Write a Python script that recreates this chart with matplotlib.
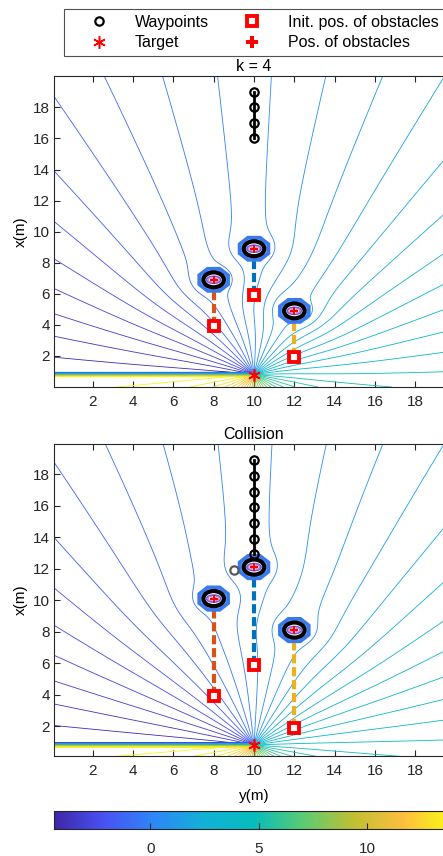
import numpy as np
import matplotlib
matplotlib.use('Agg')
import matplotlib.pyplot as plt
from matplotlib.colors import LinearSegmentedColormap, Normalize
from matplotlib.cm import ScalarMappable
from matplotlib.lines import Line2D
from matplotlib.patches import Ellipse, RegularPolygon

plt.rcParams['font.family'] = ['Liberation Sans', 'DejaVu Sans']
plt.rcParams['font.size'] = 11

## scenario data (y horizontal, x vertical)
target_y, target_x = 10.0, 0.8
obs_y = [8.0, 10.0, 12.0]
obs_init_x = [3.9, 5.9, 1.9]
obs_k4_x = [6.9, 8.9, 4.9]
obs_coll_x = [10.1, 12.1, 8.1]
wp_k4_y = [10, 10, 10, 10]
wp_k4_x = [19.0, 18.0, 17.0, 16.0]
wp_coll_y = [10, 10, 10, 10, 10, 10, 10]
wp_coll_x = [18.9, 17.9, 16.9, 15.9, 14.9, 13.9, 12.9]
coll_pt_y, coll_pt_x = [9.0], [11.9]

obs_radius = 0.8
sink_strength = 2.93
psi_offset = 4.78
c_lim = [-4.42, 13.98]
levels = 0.704 + 0.394 * np.arange(-12, 34)

obs_colors = ['#D95319', '#0072BD', '#EDB120']

# parula-like colormap
parula_pts = [(0.00, (0.2422, 0.1504, 0.6603)),
              (0.125, (0.2810, 0.3228, 0.9579)),
              (0.25, (0.1786, 0.5289, 0.9682)),
              (0.375, (0.0689, 0.6948, 0.8394)),
              (0.50, (0.0216, 0.7400, 0.7400)),
              (0.625, (0.3578, 0.7984, 0.4474)),
              (0.75, (0.7500, 0.7500, 0.2000)),
              (0.875, (0.9900, 0.7500, 0.2400)),
              (1.00, (0.9769, 0.9839, 0.0805))]
parula = LinearSegmentedColormap.from_list('parula', parula_pts)
norm = Normalize(c_lim[0], c_lim[1])

# grid: coarse step across the sink row so the branch cut shows as a band
gy = np.linspace(0.1, 19.9, 700)
gx = np.concatenate([np.arange(0.0, 0.66, 0.03), np.arange(0.95, 20.01, 0.03)])
GY, GX = np.meshgrid(gy, gx)


def stream(obs_x):
    z = GY + 1j * GX
    zt = target_y + 1j * target_x
    psi = psi_offset - sink_strength * np.angle(z - zt)
    for oy, ox in zip(obs_y, obs_x):
        zo = oy + 1j * ox
        w0 = -sink_strength / (zo - zt)
        psi = psi + np.imag(np.conj(w0) * obs_radius ** 2 / (z - zo))
    for oy, ox in zip(obs_y, obs_x):
        psi[np.abs(z - (oy + 1j * ox)) < obs_radius] = np.nan
    return psi


def draw_panel(ax, obs_x, wp_y, wp_x, title, ylim):
    ax.contour(gy, gx, stream(obs_x), levels=levels, cmap=parula, norm=norm, linewidths=0.6)
    for k in range(3):
        c = (obs_y[k], obs_x[k])
        ax.plot([obs_y[k], obs_y[k]], [obs_init_x[k], obs_x[k]], linestyle=(0, (2.2, 0.9)),
                color=obs_colors[k], linewidth=3, zorder=3)
        ax.add_patch(RegularPolygon(c, 8, radius=0.78, orientation=np.pi / 8,
                                    facecolor='#63A6F5', edgecolor='#3A78EE', linewidth=2.5, zorder=4))
        ax.add_patch(Ellipse(c, 1.2, 1.12, facecolor='white', edgecolor='none', zorder=5))
        ax.add_patch(Ellipse(c, 1.02, 0.96, facecolor='white', edgecolor='black', linewidth=3, zorder=5))
        ax.add_patch(Ellipse(c, 0.7, 0.45, facecolor='none', edgecolor='#6A5AE0', linewidth=1.2, zorder=6))
        ax.add_patch(Ellipse((obs_y[k] - 0.17, obs_x[k]), 0.2, 0.25, facecolor='none',
                             edgecolor='#E07AC0', linewidth=0.9, zorder=6))
        ax.add_patch(Ellipse((obs_y[k] + 0.17, obs_x[k]), 0.2, 0.25, facecolor='none',
                             edgecolor='#E07AC0', linewidth=0.9, zorder=6))
    ax.plot(obs_y, obs_init_x, 's', markersize=7, markerfacecolor='white', markeredgecolor='red',
            markeredgewidth=2.8, zorder=7)
    ax.plot(obs_y, obs_x, 'P', markersize=6, color='red', markeredgewidth=0, zorder=7)
    ax.plot(wp_y, wp_x, '-o', color='black', linewidth=2, markersize=6, markerfacecolor='none',
            markeredgewidth=1.6, zorder=8)
    ax.plot([target_y], [target_x], marker=(6, 2, 0), color='red', markersize=9,
            markeredgewidth=1.2, linestyle='none', zorder=9)
    ax.set_xlim(0.1, 19.9)
    ax.set_ylim(ylim)
    ax.set_xticks(range(2, 20, 2))
    ax.set_yticks(range(2, 20, 2))
    ax.set_title(title, fontsize=11.5, pad=4)
    ax.set_ylabel('x(m)', labelpad=4)
    ax.tick_params(direction='in', length=4, width=0.8, top=True, right=True, colors='#262626')
    ax.tick_params(axis='x', pad=6)
    ax.tick_params(axis='y', pad=3)
    for s in ax.spines.values():
        s.set_color('#262626')
        s.set_linewidth(0.8)


fig = plt.figure(figsize=(4.43, 8.56), dpi=100)
ax1 = fig.add_axes([54.3 / 443, 1 - 387 / 856, 399.4 / 443, 310.7 / 856])
ax2 = fig.add_axes([54.3 / 443, 1 - 756 / 856, 399.4 / 443, 311.7 / 856])

draw_panel(ax1, obs_k4_x, wp_k4_y, wp_k4_x, 'k = 4', (0, 20))
draw_panel(ax2, obs_coll_x, wp_coll_y, wp_coll_x, 'Collision', (0.1, 19.9))
ax2.plot(coll_pt_y, coll_pt_x, 'o', color='#595959', markersize=6, markerfacecolor='none',
         markeredgewidth=1.6, zorder=8)
ax2.set_xlabel('y(m)', labelpad=7.5)

cax = fig.add_axes([54.3 / 443, 1 - 829.3 / 856, 399.4 / 443, 18.6 / 856])
cb = fig.colorbar(ScalarMappable(norm=norm, cmap=parula), cax=cax, orientation='horizontal')
cb.set_ticks([0, 5, 10])
cax.tick_params(direction='in', length=4, width=0.8, colors='#262626', pad=9.5)
cb.outline.set_edgecolor('#262626')
cb.outline.set_linewidth(0.8)

handles = [Line2D([], [], marker='o', color='black', linestyle='none', markerfacecolor='none',
                  markersize=6, markeredgewidth=1.6),
           Line2D([], [], marker=(6, 2, 0), color='red', linestyle='none', markersize=9,
                  markeredgewidth=1.1),
           Line2D([], [], marker='s', color='red', linestyle='none', markerfacecolor='white',
                  markersize=6.5, markeredgewidth=2.8),
           Line2D([], [], marker='P', color='red', linestyle='none', markersize=8,
                  markeredgewidth=0)]
labels = ['Waypoints', 'Target', 'Init. pos. of obstacles', 'Pos. of obstacles']
leg = fig.legend(handles, labels, ncol=2, loc='upper left', bbox_to_anchor=(64.3 / 443, 1 - 9.5 / 856),
                 fontsize=11.5, borderaxespad=0, borderpad=0.35, handlelength=3.7, handletextpad=0.36,
                 columnspacing=0.88, labelspacing=0.32, fancybox=False, frameon=True)
leg.get_frame().set_edgecolor('#262626')
leg.get_frame().set_linewidth(0.8)

fig.savefig('out.png', dpi=100)
